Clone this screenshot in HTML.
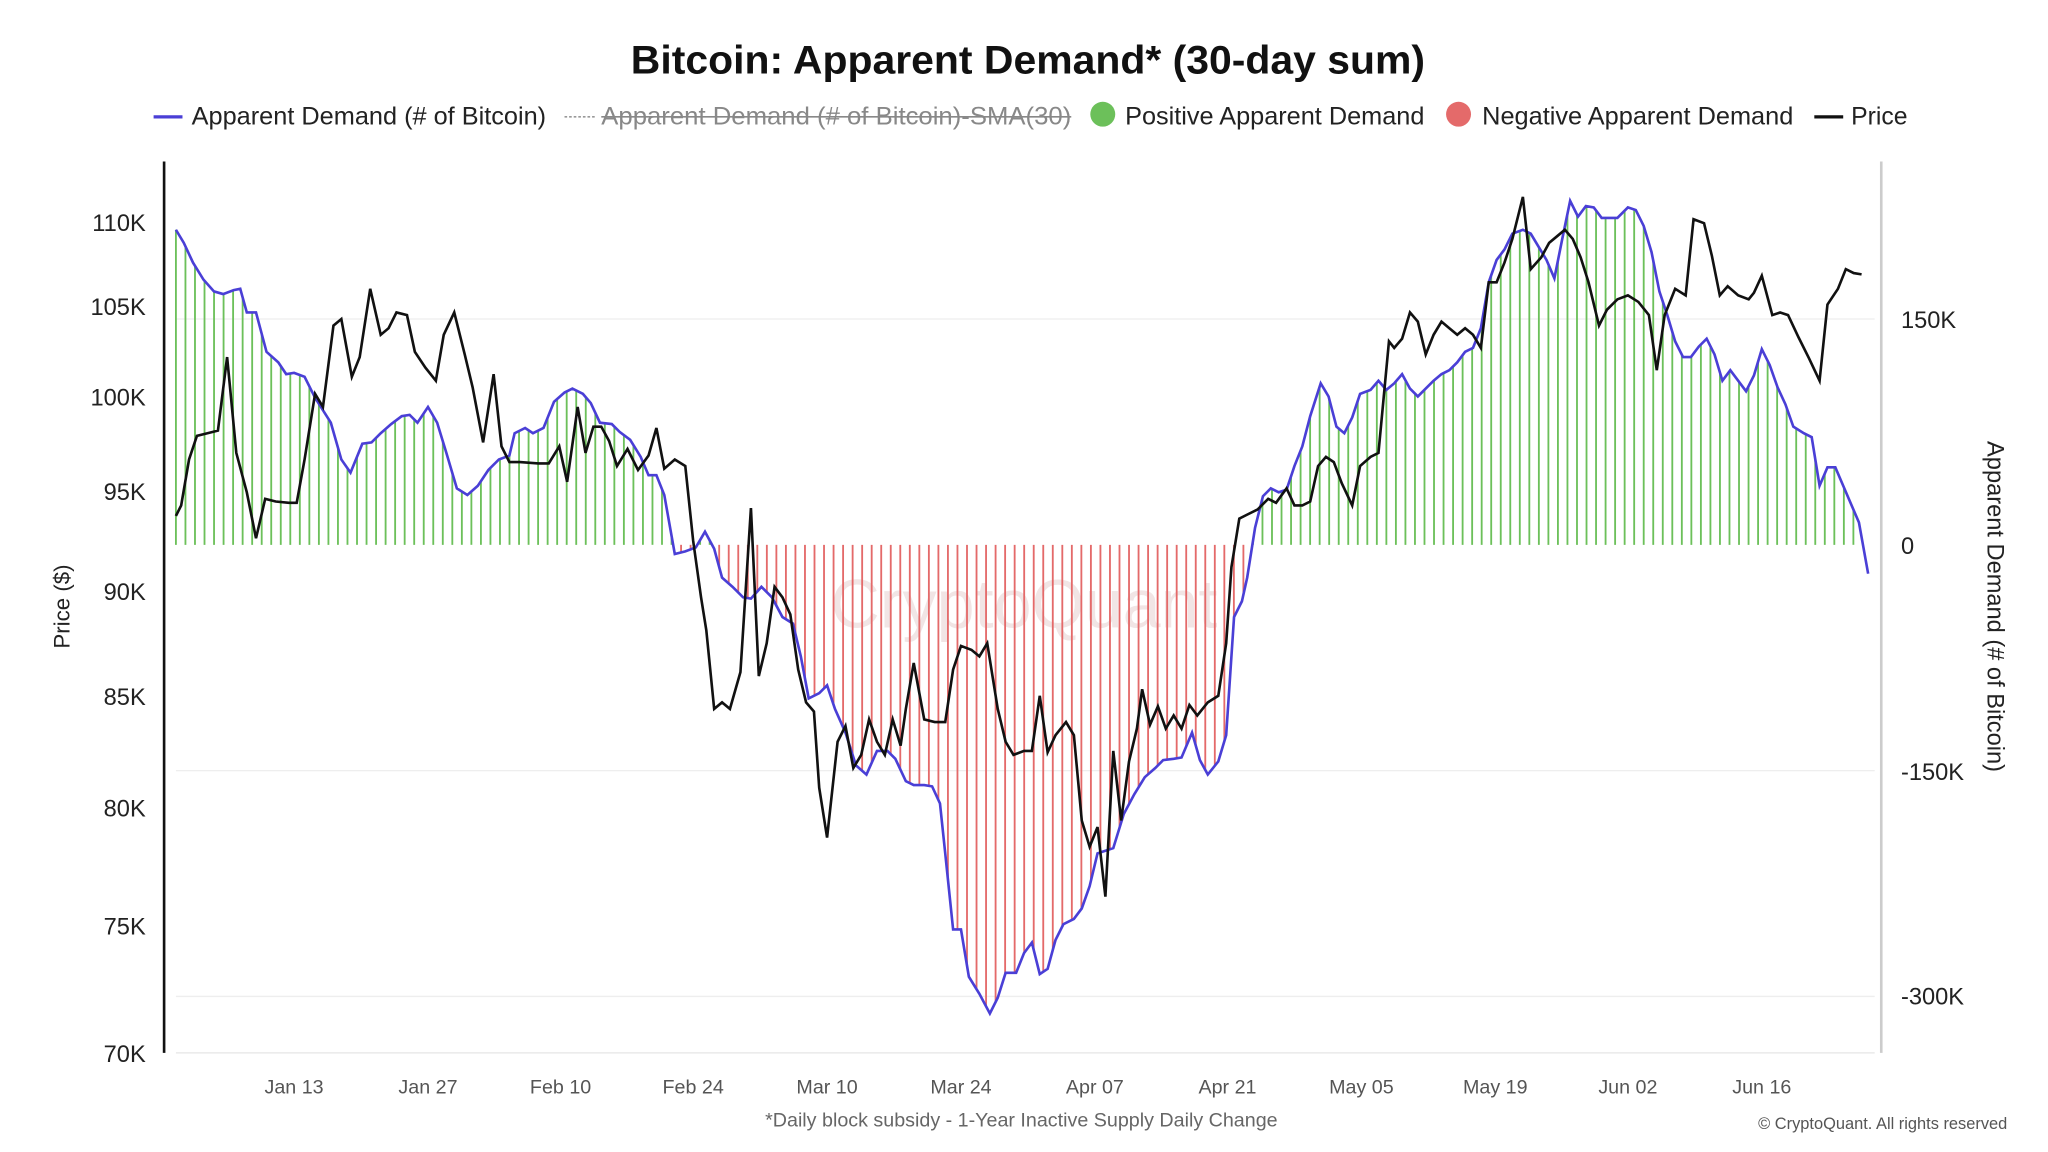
<!DOCTYPE html>
<html><head><meta charset="utf-8"><style>
html,body{margin:0;padding:0;background:#fff;}
svg{display:block;font-family:"Liberation Sans",sans-serif;}
</style></head><body>
<svg id="s" width="2048" height="1152" viewBox="0 0 1560 877.5" xmlns="http://www.w3.org/2000/svg">
<rect width="1560" height="877.5" fill="#fff"/>
<text x="783" y="56" text-anchor="middle" font-size="30" font-weight="bold" fill="#111" textLength="605" lengthAdjust="spacingAndGlyphs">Bitcoin: Apparent Demand* (30-day sum)</text>
<g font-size="19" fill="#222">
<line x1="117" y1="89" x2="139" y2="89" stroke="#4a3fd6" stroke-width="2.5"/>
<text x="146" y="95" textLength="270" lengthAdjust="spacingAndGlyphs">Apparent Demand (# of Bitcoin)</text>
<line x1="430" y1="89" x2="453" y2="89" stroke="#999" stroke-width="1.2" stroke-dasharray="2,1.5"/>
<text x="458" y="95" fill="#888" textLength="358" lengthAdjust="spacingAndGlyphs">Apparent Demand (# of Bitcoin)-SMA(30)</text>
<line x1="458" y1="89" x2="816" y2="89" stroke="#888" stroke-width="1.2"/>
<circle cx="840" cy="87" r="9.5" fill="#6cc05a"/>
<text x="857" y="95" textLength="228" lengthAdjust="spacingAndGlyphs">Positive Apparent Demand</text>
<circle cx="1111" cy="87" r="9.5" fill="#e46a6a"/>
<text x="1129" y="95" textLength="237" lengthAdjust="spacingAndGlyphs">Negative Apparent Demand</text>
<line x1="1382" y1="89" x2="1404" y2="89" stroke="#111" stroke-width="2.5"/>
<text x="1410" y="95" textLength="43" lengthAdjust="spacingAndGlyphs">Price</text>
</g>
<g stroke="#eee" stroke-width="1">
<line x1="134" y1="243" x2="1428" y2="243"/>
<line x1="134" y1="587" x2="1428" y2="587"/>
<line x1="134" y1="759" x2="1428" y2="759"/>
</g>
<text x="780" y="478" text-anchor="middle" font-size="52" fill="#e8d4d4" opacity="0.6">CryptoQuant</text>
<g id="bars"></g>
<line x1="125" y1="123" x2="125" y2="802" stroke="#111" stroke-width="2"/>
<line x1="1433" y1="123" x2="1433" y2="802" stroke="#ccc" stroke-width="2"/>
<line x1="134" y1="802" x2="1428" y2="802" stroke="#e6e6e6" stroke-width="1"/>
<g font-size="18" fill="#222" text-anchor="end">
<text x="111" y="176">110K</text><text x="111" y="240">105K</text><text x="111" y="309">100K</text>
<text x="111" y="381">95K</text><text x="111" y="457">90K</text><text x="111" y="537">85K</text>
<text x="111" y="622">80K</text><text x="111" y="712">75K</text><text x="111" y="809">70K</text>
</g>
<g font-size="18" fill="#222">
<text x="1448" y="250">150K</text><text x="1448" y="422">0</text>
<text x="1448" y="594">-150K</text><text x="1448" y="765">-300K</text>
</g>
<text transform="translate(53,462) rotate(-90)" text-anchor="middle" font-size="17" fill="#222">Price ($)</text>
<text transform="translate(1514,462) rotate(90)" text-anchor="middle" font-size="18" fill="#222">Apparent Demand (# of Bitcoin)</text>
<g font-size="15" fill="#555" text-anchor="middle">
<text x="224" y="833">Jan 13</text><text x="326" y="833">Jan 27</text><text x="427" y="833">Feb 10</text>
<text x="528" y="833">Feb 24</text><text x="630" y="833">Mar 10</text><text x="732" y="833">Mar 24</text>
<text x="834" y="833">Apr 07</text><text x="935" y="833">Apr 21</text><text x="1037" y="833">May 05</text>
<text x="1139" y="833">May 19</text><text x="1240" y="833">Jun 02</text><text x="1342" y="833">Jun 16</text>
</g>
<text x="778" y="858" text-anchor="middle" font-size="15" fill="#666">*Daily block subsidy - 1-Year Inactive Supply Daily Change</text>
<text x="1529" y="860" text-anchor="end" font-size="12.5" fill="#555">© CryptoQuant. All rights reserved</text>
<polyline id="dem" fill="none" stroke="#4a3fd6" stroke-width="2"/>
<polyline id="pr" fill="none" stroke="#111" stroke-width="2"/>
</svg>
<script>
var D=[134,175,140,185,147,200,155,213,163,222,170,224,178,221,183,220,188,238,195,238,203,268,212,276,218,285,224,284,232,287,240,303,252,322,260,350,267,360,276,338,283,337,290,330,298,323,306,317,312,316,318,322,326,310,333,322,340,345,348,372,356,377,364,370,372,358,380,350,388,347,392,330,400,326,406,330,414,326,422,306,430,299,436,296,444,300,450,307,457,322,466,323,472,329,480,335,488,348,494,362,500,362,506,377,514,422,522,420,530,417,537,405,544,418,550,440,558,447,566,455,572,456,580,447,588,455,596,470,604,475,610,500,616,532,624,528,630,522,636,540,644,558,652,583,660,590,668,572,676,572,682,578,690,595,696,598,704,598,710,599,716,612,720,650,726,708,732,708,738,744,746,757,754,772,760,760,766,741,774,741,780,726,786,718,792,742,798,738,804,716,810,704,818,700,824,692,830,675,836,650,842,648,848,646,856,620,864,605,872,592,880,585,886,579,894,578,900,577,908,558,914,579,920,590,928,580,934,560,940,470,946,458,950,440,956,402,962,378,968,372,974,375,980,373,986,355,992,340,998,317,1006,292,1012,302,1018,325,1024,330,1030,318,1036,300,1044,297,1050,290,1056,297,1062,292,1068,285,1074,296,1080,302,1086,296,1092,290,1098,285,1104,282,1110,276,1116,268,1122,265,1128,250,1134,215,1140,198,1146,190,1152,178,1160,175,1166,178,1172,188,1178,198,1184,212,1190,182,1196,153,1202,165,1208,157,1214,158,1220,166,1226,166,1232,166,1240,158,1246,160,1252,172,1258,192,1264,222,1270,240,1276,260,1282,272,1288,272,1294,264,1300,258,1306,270,1312,290,1318,282,1324,290,1330,298,1336,286,1342,266,1348,278,1354,295,1360,308,1366,325,1374,330,1380,333,1386,370,1392,356,1398,356,1404,370,1410,384,1416,398,1423,437];
var P=[134,393,138,385,144,350,150,332,158,330,166,328,173,272,180,345,188,375,195,410,202,380,210,382,220,383,226,383,232,350,240,300,246,310,254,248,260,243,268,287,274,272,282,220,290,255,296,250,302,238,310,240,316,268,324,280,332,290,338,255,346,238,354,270,360,295,368,337,376,285,382,340,388,352,396,352,410,353,418,353,426,340,432,367,440,310,446,345,452,325,458,325,464,336,470,355,478,342,486,358,494,347,500,326,506,357,514,350,522,355,528,412,534,455,538,480,544,540,550,535,556,540,564,512,572,387,578,515,584,490,590,447,596,455,602,468,608,510,614,535,620,542,624,600,630,638,638,565,644,553,650,585,656,575,662,548,668,565,674,575,680,548,686,568,690,540,696,505,704,548,712,550,720,550,726,510,732,492,740,495,746,500,752,490,760,540,766,565,772,575,780,572,786,572,792,530,798,573,804,560,812,550,818,560,824,625,830,645,836,630,842,683,848,572,854,625,860,580,866,555,870,525,876,552,882,538,888,555,894,545,900,555,906,537,912,545,920,535,928,530,934,490,938,432,944,395,950,392,958,388,966,380,972,383,980,372,986,385,992,385,998,382,1004,355,1010,348,1016,352,1022,368,1030,385,1036,355,1044,348,1050,345,1058,260,1062,265,1068,258,1074,238,1080,245,1086,270,1092,255,1098,245,1104,250,1110,255,1116,250,1122,255,1128,265,1134,215,1140,215,1146,200,1152,182,1160,150,1166,205,1174,196,1180,185,1186,180,1192,175,1198,182,1204,196,1210,215,1218,248,1224,236,1232,228,1240,225,1248,230,1256,240,1262,282,1268,240,1276,220,1284,225,1290,167,1298,170,1304,195,1310,225,1316,218,1324,225,1332,228,1336,223,1342,210,1350,240,1356,238,1362,240,1370,257,1378,273,1386,290,1392,232,1400,220,1406,205,1412,208,1418,209];
function pts(a){var s=[];for(var i=0;i<a.length;i+=2)s.push(a[i]+','+a[i+1]);return s.join(' ');}
function interp(a,x){for(var i=0;i<a.length-2;i+=2){if(x<=a[i+2]){var t=(x-a[i])/(a[i+2]-a[i]);return a[i+1]+t*(a[i+3]-a[i+1]);}}return a[a.length-1];}
document.getElementById('dem').setAttribute('points',pts(D));
document.getElementById('pr').setAttribute('points',pts(P));
var g=document.getElementById('bars'),h='';
for(var x=134;x<=1424;x+=7.26){var y=interp(D,Math.min(x,1423));var c=y<=415?'#6cc05a':'#e46a6a';
h+='<line x1="'+x.toFixed(2)+'" y1="415" x2="'+x.toFixed(2)+'" y2="'+y.toFixed(1)+'" stroke="'+c+'" stroke-width="1.4"/>';}
g.innerHTML=h;
</script>
</body></html>
